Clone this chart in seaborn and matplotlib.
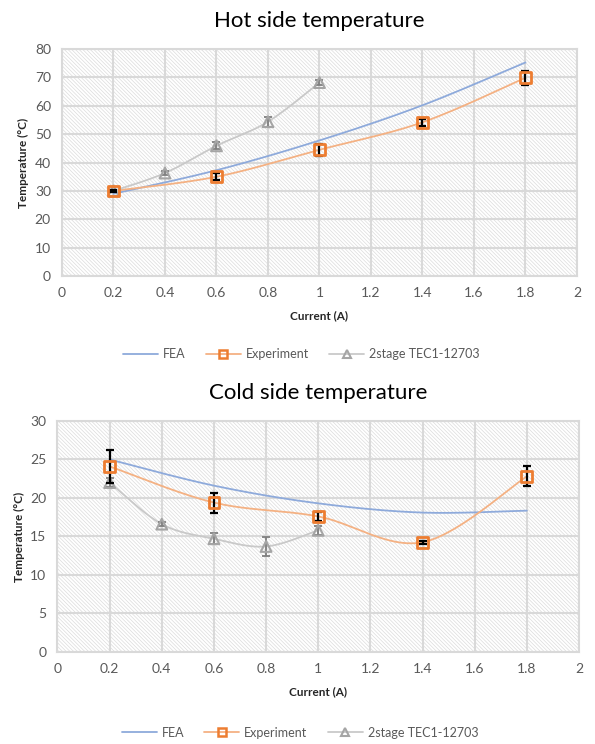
import numpy as np
import pandas as pd
import matplotlib
matplotlib.use("Agg")
import matplotlib.pyplot as plt
from matplotlib.lines import Line2D
import seaborn as sns

# ---------------------------------------------------------------
# Data

x_ticks = [0, 0.2, 0.4, 0.6, 0.8, 1.0, 1.2, 1.4, 1.6, 1.8, 2.0]
x_tick_labels = ["0", "0.2", "0.4", "0.6", "0.8", "1", "1.2", "1.4", "1.6", "1.8", "2"]

# Hot side
hot_fea_x = [0.2, 0.6, 1.0, 1.4, 1.8]
hot_fea_y = [29.0, 37.3, 47.8, 60.2, 75.3]

hot_exp_x = [0.2, 0.6, 1.0, 1.4, 1.8]
hot_exp_y = [30.0, 35.0, 44.5, 54.2, 69.9]
hot_exp_err = [0.4, 1.2, 2.2, 1.2, 2.5]

hot_tec_x = [0.2, 0.4, 0.6, 0.8, 1.0]
hot_tec_y = [30.0, 36.3, 45.9, 54.4, 68.2]
hot_tec_err = [0.5, 0.8, 1.2, 1.8, 1.0]

# Cold side
cold_fea_x = [0.2, 0.6, 1.0, 1.4, 1.8]
cold_fea_y = [25.0, 21.6, 19.3, 18.1, 18.35]

cold_exp_x = [0.2, 0.6, 1.0, 1.4, 1.8]
cold_exp_y = [24.1, 19.4, 17.6, 14.25, 22.8]
cold_exp_err = [2.1, 1.3, 0.6, 0.2, 1.3]

cold_tec_x = [0.2, 0.4, 0.6, 0.8, 1.0]
cold_tec_y = [22.0, 16.6, 14.7, 13.7, 15.8]
cold_tec_err = [0.6, 0.3, 0.7, 1.25, 0.6]

series_labels = ["FEA", "Experiment", "2stage TEC1-12703"]

# ---------------------------------------------------------------
# Style

sns.set_style("white")
plt.rcParams["font.family"] = ["Lato", "DejaVu Sans"]
plt.rcParams["hatch.color"] = "#dcdcdc"
plt.rcParams["hatch.linewidth"] = 0.5

BLUE = "#8eaadb"
ORANGE_LINE = "#f4b183"
ORANGE = "#ed7d31"
GREY_LINE = "#c9c9c9"
GREY = "#a5a5a5"
GRID = "#d9d9d9"
TEXT = "#595959"


def smooth(x, y, n=40):
    # Excel-like smoothed line (uniform Catmull-Rom through the points)
    x = np.asarray(x, float)
    y = np.asarray(y, float)
    px = np.concatenate([[x[0]], x, [x[-1]]])
    py = np.concatenate([[y[0]], y, [y[-1]]])
    t = np.linspace(0, 1, n)
    xs, ys = [], []
    for i in range(len(x) - 1):
        for p, out in ((px, xs), (py, ys)):
            p0, p1, p2, p3 = p[i], p[i + 1], p[i + 2], p[i + 3]
            out.append(0.5 * ((2 * p1) + (-p0 + p2) * t
                              + (2 * p0 - 5 * p1 + 4 * p2 - p3) * t ** 2
                              + (-p0 + 3 * p1 - 3 * p2 + p3) * t ** 3))
    return np.concatenate(xs), np.concatenate(ys)


def draw_panel(ax, title, ymax, ystep, fea, exp, tec, leg_y):
    ax.set_facecolor("white")
    ax.patch.set_hatch("\\" * 9)
    ax.patch.set_edgecolor("#dcdcdc")

    # smoothed lines
    for (sx, sy), color in ((fea, BLUE), (exp[:2], ORANGE_LINE), (tec[:2], GREY_LINE)):
        cx, cy = smooth(sx, sy)
        sns.lineplot(x=cx, y=cy, sort=False, color=color, lw=1.3, ax=ax, zorder=3)

    # error bars
    ax.errorbar(tec[0], tec[1], yerr=tec[2], fmt="none", ecolor="#7f7f7f",
                elinewidth=1.3, capsize=3, capthick=1.3, zorder=4)
    ax.errorbar(exp[0], exp[1], yerr=exp[2], fmt="none", ecolor="black",
                elinewidth=1.6, capsize=3, capthick=1.6, zorder=6)

    # markers
    sns.scatterplot(x=tec[0], y=tec[1], marker="^", s=60, facecolor="none",
                    edgecolor=GREY, linewidth=1.5, ax=ax, zorder=5)
    sns.scatterplot(x=exp[0], y=exp[1], marker="s", s=60, facecolor="none",
                    edgecolor=ORANGE, linewidth=2, ax=ax, zorder=7)

    ax.set_xlim(0, 2)
    ax.set_ylim(0, ymax)
    ax.set_xticks(x_ticks)
    ax.set_xticklabels(x_tick_labels)
    ax.set_yticks(np.arange(0, ymax + 0.1, ystep))
    ax.tick_params(length=0, labelsize=10, colors=TEXT, pad=8)
    ax.grid(True, color=GRID, lw=1.5, zorder=1)
    ax.set_axisbelow(True)
    for sp in ax.spines.values():
        sp.set_color(GRID)
        sp.set_linewidth(1.5)

    ax.set_title(title, fontsize=16, color="black", pad=16)
    ax.set_xlabel("Current (A)", fontsize=8.5, fontweight="bold", color="#262626", labelpad=8)
    ax.set_ylabel("Temperature (°C)", fontsize=8.5, fontweight="bold", color="#262626", labelpad=4)

    handles = [
        Line2D([], [], color=BLUE, lw=1.3),
        Line2D([], [], color=ORANGE_LINE, lw=1.3, marker="s", markersize=6,
               markerfacecolor="none", markeredgecolor=ORANGE, markeredgewidth=1.8),
        Line2D([], [], color=GREY_LINE, lw=1.3, marker="^", markersize=6,
               markerfacecolor="none", markeredgecolor=GREY, markeredgewidth=1.5),
    ]
    leg = ax.legend(handles, series_labels, loc="center", bbox_to_anchor=(0.465, leg_y),
                    ncol=3, frameon=False, fontsize=9, handlelength=2.8, columnspacing=1.6,
                    handletextpad=0.4)
    for t in leg.get_texts():
        t.set_color(TEXT)


fig = plt.figure(figsize=(5.95, 7.44), dpi=100)
ax_hot = fig.add_axes([0.1042, 0.629, 0.8655, 0.305])
ax_cold = fig.add_axes([0.0966, 0.1237, 0.8765, 0.3105])

draw_panel(ax_hot, "Hot side temperature", 80, 10,
           (hot_fea_x, hot_fea_y),
           (hot_exp_x, hot_exp_y, hot_exp_err),
           (hot_tec_x, hot_tec_y, hot_tec_err), -0.345)
draw_panel(ax_cold, "Cold side temperature", 30, 5,
           (cold_fea_x, cold_fea_y),
           (cold_exp_x, cold_exp_y, cold_exp_err),
           (cold_tec_x, cold_tec_y, cold_tec_err), -0.35)

fig.savefig("out.png", dpi=100)
